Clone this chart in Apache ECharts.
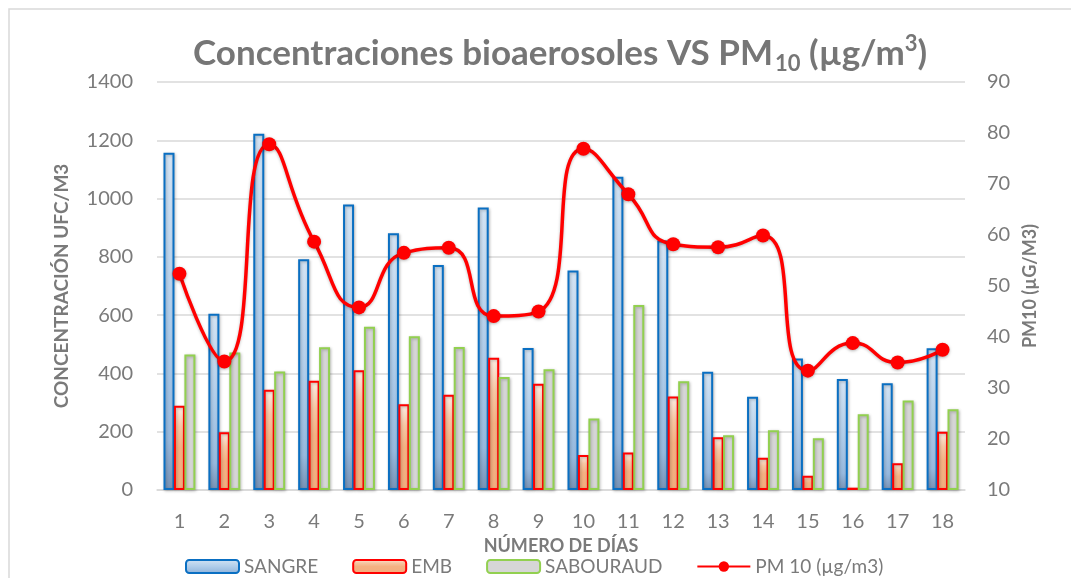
<!DOCTYPE html>
<html>
<head>
<meta charset="utf-8">
<script src="https://cdn.jsdelivr.net/npm/echarts@6/dist/echarts.min.js"></script>
<style>html,body{margin:0;padding:0;background:#fff}#c{width:1071px;height:578px}</style>
</head>
<body>
<div id="c"></div>
<script>
const categories = ['1','2','3','4','5','6','7','8','9','10','11','12','13','14','15','16','17','18'];
const sangre = [1157, 605, 1222, 792, 980, 881, 772, 969, 487, 753, 1075, 856, 406, 320, 451, 381, 366, 486];
const emb = [289, 198, 344, 375, 411, 294, 327, 454, 365, 120, 129, 321, 181, 111, 49, 8, 92, 200];
const sabouraud = [465, 472, 407, 490, 560, 528, 491, 388, 414, 245, 635, 373, 188, 205, 178, 260, 307, 277];
const pm10 = [52.4, 35.2, 77.8, 58.7, 45.8, 56.5, 57.5, 44.1, 45.0, 76.9, 68.0, 58.2, 57.6, 59.9, 33.4, 38.8, 35.0, 37.5];
const leftTicks = {min: 0, max: 1400, interval: 200};
const rightTicks = {min: 10, max: 90, interval: 10};

const FONT = 'Lato';
const GREY = '#7a7a7a';
const chart = echarts.init(document.getElementById('c'), null, {renderer: 'canvas'});
const grad = (stops) => new echarts.graphic.LinearGradient(0, 0, 0, 1, stops.map((c) => ({offset: c[0], color: c[1]})));
const shadow = {shadowBlur: 3, shadowColor: 'rgba(0,0,0,0.25)', shadowOffsetX: 1, shadowOffsetY: 1};

chart.setOption({
  animation: false,
  backgroundColor: '#fff',
  graphic: [{
    type: 'rect', shape: {x: 9, y: 9, width: 1100, height: 620},
    style: {fill: 'none', stroke: '#d9d9d9', lineWidth: 1.5}, silent: true, z: -1
  }],
  title: {
    text: '{a|Concentraciones bioaerosoles VS PM}{s|10}{a| (µg/m}{p|3}{a|)}',
    left: 188, top: 28,
    textStyle: {
      rich: {
        a: {fontFamily: FONT, fontSize: 35, fontWeight: 'bold', color: '#767676', lineHeight: 42},
        s: {fontFamily: FONT, fontSize: 22, fontWeight: 'bold', color: '#767676', padding: [18, 0, 0, 2], verticalAlign: 'bottom'},
        p: {fontFamily: FONT, fontSize: 22, fontWeight: 'bold', color: '#767676', padding: [0, 0, 16, 0], verticalAlign: 'top'}
      }
    }
  },
  grid: {left: 157, right: 106, top: 82, bottom: 88, containLabel: false},
  legend: {
    left: 180, top: 552, itemWidth: 53, itemHeight: 13, itemGap: 34,
    textStyle: {fontFamily: FONT, fontSize: 19, color: GREY},
    data: ['SANGRE', 'EMB', 'SABOURAUD', 'PM 10 (µg/m3)']
  },
  xAxis: {
    type: 'category', data: categories,
    name: 'NÚMERO DE DÍAS', nameLocation: 'middle', nameGap: 38,
    nameTextStyle: {fontFamily: FONT, fontSize: 18, fontWeight: 'bold', color: GREY},
    axisLine: {show: true, lineStyle: {color: '#d9d9d9', width: 1.5}},
    axisTick: {show: false},
    axisLabel: {fontFamily: FONT, fontSize: 20, color: GREY, margin: 22}
  },
  yAxis: [{
    type: 'value', min: leftTicks.min, max: leftTicks.max, interval: leftTicks.interval,
    name: 'CONCENTRACIÓN UFC/M3', nameLocation: 'middle', nameGap: 86, nameRotate: 90,
    nameTextStyle: {fontFamily: FONT, fontSize: 19, fontWeight: 'bold', color: GREY},
    axisLine: {show: false}, axisTick: {show: false},
    axisLabel: {fontFamily: FONT, fontSize: 20, color: GREY, margin: 24, formatter: (v) => String(v)},
    splitLine: {lineStyle: {color: '#d9d9d9', width: 1.5}}
  }, {
    type: 'value', min: rightTicks.min, max: rightTicks.max, interval: rightTicks.interval,
    name: 'PM10 (µG/M3)', nameLocation: 'middle', nameGap: 56, nameRotate: 90,
    nameTextStyle: {fontFamily: FONT, fontSize: 18, fontWeight: 'bold', color: GREY},
    axisLine: {show: false}, axisTick: {show: false},
    axisLabel: {fontFamily: FONT, fontSize: 20, color: GREY, margin: 22, formatter: (v) => String(v)},
    splitLine: {show: false}
  }],
  series: [{
    name: 'SANGRE', type: 'bar', data: sangre, barWidth: 11, barGap: '-5%', barCategoryGap: '30%',
    itemStyle: Object.assign({
      color: grad([[0, '#d4e4f4'], [0.5, '#b0cdea'], [0.85, '#97b9de'], [1, '#7792b5']]),
      borderColor: '#0a6fc2', borderWidth: 2
    }, shadow)
  }, {
    name: 'EMB', type: 'bar', data: emb, barWidth: 11, barGap: '-5%',
    itemStyle: Object.assign({
      color: grad([[0, '#fdeee5'], [0.25, '#f7c6a3'], [0.5, '#f4b183'], [1, '#f2ad7e']]),
      borderColor: '#ff0000', borderWidth: 2
    }, shadow)
  }, {
    name: 'SABOURAUD', type: 'bar', data: sabouraud, barWidth: 11, barGap: '-5%',
    itemStyle: Object.assign({
      color: '#d6d6d6', borderColor: '#92d050', borderWidth: 2
    }, shadow)
  }, {
    name: 'PM 10 (µg/m3)', type: 'line', yAxisIndex: 1, data: pm10, smooth: 0.55,
    symbol: 'circle', symbolSize: 14,
    lineStyle: {color: '#ff0000', width: 3.5, shadowBlur: 3, shadowColor: 'rgba(0,0,0,0.25)', shadowOffsetY: 1},
    itemStyle: {color: '#ff0000', shadowBlur: 3, shadowColor: 'rgba(0,0,0,0.3)', shadowOffsetY: 1},
    z: 5
  }]
});
</script>
</body>
</html>
